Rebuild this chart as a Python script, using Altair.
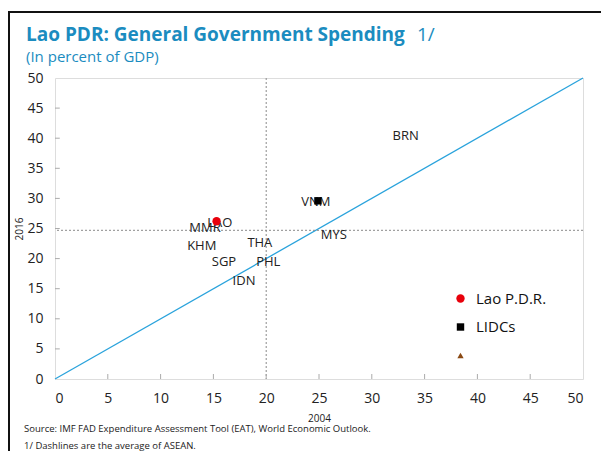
import altair as alt
import pandas as pd

FONT = "Open Sans"

# Country labels: x = 2004 spending, y = 2016 spending (% of GDP)
countries = ["BRN", "VNM", "MYS", "MMR", "LAO", "KHM", "THA", "SGP", "PHL", "IDN"]
x_2004 = [33.2, 24.7, 26.4, 14.2, 15.6, 13.9, 19.4, 16.0, 20.2, 17.9]
y_2016 = [40.4, 29.4, 23.9, 25.1, 25.9, 22.1, 22.6, 19.4, 19.4, 16.3]

# Highlighted series points
series_names = ["Lao P.D.R.", "LIDCs"]
series_x = [15.3, 24.9]
series_y = [26.2, 29.6]

legend_domain = ["Lao P.D.R.", "LIDCs", " "]
legend_colors = ["#e8000b", "#000000", "#8a4a14"]
legend_shapes = ["circle", "square", "triangle-up"]
legend_sizes = [70, 40, 22]

# ASEAN averages (dash lines)
asean_avg_x = [20.0]
asean_avg_y = [24.7]

# 45-degree line
diag_vals = [0, 50]

axis_values = [0, 5, 10, 15, 20, 25, 30, 35, 40, 45, 50]
inner_ticks = [5, 10, 15, 20, 25, 30, 35, 40, 45]

title_text = "Lao PDR: General Government Spending"
title_suffix = "1/"
subtitle_text = "(In percent of GDP)"
source_text = "Source: IMF FAD Expenditure Assessment Tool (EAT), World Economic Outlook."
note_text = "1/ Dashlines are the average of ASEAN."

W, H = 528, 301
BLUE = "#1b8cc0"
TICK_LEN_X = 0.45           # inner y-tick length, in x units (~5px)
FRAME_SPAN = [-4.45, 51.7]  # outer frame top edge extent, in x units

xs = alt.Scale(domain=[0, 50], nice=False, zero=False)
ys = alt.Scale(domain=[0, 50], nice=False, zero=False)
xaxis = alt.Axis(values=axis_values, title="2004", grid=False, domain=False, ticks=False,
                 labelFontSize=14, labelColor="#222", labelPadding=12, labelFont=FONT,
                 titleFontSize=10, titleFontWeight="normal", titleColor="#222",
                 titlePadding=8, titleFont=FONT)
yaxis = alt.Axis(values=axis_values, title="2016", grid=False, domain=False, ticks=False,
                 labelFontSize=14, labelColor="#222", labelPadding=12, labelFont=FONT,
                 titleFontSize=10, titleFontWeight="normal", titleColor="#222",
                 titlePadding=2, titleFont=FONT)


def X(field="x"):
    return alt.X(f"{field}:Q", scale=xs, axis=xaxis)


def Y(field="y"):
    return alt.Y(f"{field}:Q", scale=ys, axis=yaxis)


diag_df = pd.DataFrame({"x": diag_vals, "y": diag_vals})
diag = alt.Chart(diag_df).mark_line(color="#2aa3dc", strokeWidth=1.3).encode(x=X(), y=Y())

vline = alt.Chart(pd.DataFrame({"x": asean_avg_x})).mark_rule(
    color="#8a8a8a", strokeDash=[2, 2], strokeWidth=1).encode(x=X())
hline = alt.Chart(pd.DataFrame({"y": asean_avg_y})).mark_rule(
    color="#8a8a8a", strokeDash=[2, 2], strokeWidth=1).encode(y=Y())

xt = alt.Chart(pd.DataFrame({"x": inner_ticks})).mark_rule(color="#aaaaaa").encode(
    x=X(), y=alt.value(H), y2=alt.value(H - 5))
yt_df = pd.DataFrame({"y": inner_ticks,
                      "tx": [0.0] * len(inner_ticks),
                      "tx2": [TICK_LEN_X] * len(inner_ticks)})
yt = alt.Chart(yt_df).mark_rule(color="#aaaaaa").encode(
    y=Y(), x=X("tx"), x2="tx2:Q")

lab_df = pd.DataFrame({"x": x_2004, "y": y_2016, "c": countries})
labels = alt.Chart(lab_df).mark_text(fontSize=13, color="#222", font=FONT).encode(
    x=X(), y=Y(), text="c:N")

leg = alt.Legend(orient="none", legendX=398, legendY=213, title=None, labelFontSize=15,
                 labelFont=FONT, labelColor="#111", rowPadding=12.5, padding=0,
                 labelOffset=8, symbolStrokeWidth=0.8)
pts_df = pd.DataFrame({"x": series_x, "y": series_y, "s": series_names})
pts = alt.Chart(pts_df).mark_point(filled=True, opacity=1).encode(
    x=X(), y=Y(),
    color=alt.Color("s:N", scale=alt.Scale(domain=legend_domain, range=legend_colors), legend=leg),
    shape=alt.Shape("s:N", scale=alt.Scale(domain=legend_domain, range=legend_shapes), legend=leg),
    size=alt.Size("s:N", scale=alt.Scale(domain=legend_domain, range=legend_sizes), legend=leg),
)


def txt(text, x, y, size, color="#222", weight="normal"):
    return alt.Chart(pd.DataFrame({"t": [text]})).mark_text(
        align="left", baseline="alphabetic", fontSize=size, font=FONT, color=color,
        fontWeight=weight).encode(text="t:N", x=alt.value(x), y=alt.value(y))


title = txt(title_text, -29, -37, 19, BLUE, "bold")
title2 = txt(title_suffix, 362, -37, 19, BLUE)
subtitle = txt(subtitle_text, -29, -16, 15, BLUE)
source = txt(source_text, -31, H + 53, 9.5)
note = txt(note_text, -31, H + 70, 9.5)

frame_left = alt.Chart(pd.DataFrame({"b": [1]})).mark_rule(
    color="#111", strokeWidth=2, orient="vertical").encode(
    x=alt.value(-46), y=alt.value(-67), y2=alt.value(H + 90))

# top edge of the outer frame: drawn as a two-point line
frame_line_df = pd.DataFrame({"fx": FRAME_SPAN})
frame_top_line = alt.Chart(frame_line_df).mark_line(
    color="#111", strokeWidth=2, clip=False).encode(
    x=X("fx"), y=alt.value(-66))
frame_rect_df = pd.DataFrame({"fx": [FRAME_SPAN[0]], "fx2": [FRAME_SPAN[1]]})
frame_top_rect = alt.Chart(frame_rect_df).mark_rect(color="#111", clip=False).encode(
    x=X("fx"), x2="fx2:Q", y=alt.value(-67), y2=alt.value(-65))

chart = alt.layer(
    diag, vline, hline, xt, yt, labels, pts,
    title, title2, subtitle, source, note, frame_left, frame_top_line, frame_top_rect,
).properties(
    width=W, height=H,
    autosize=alt.AutoSizeParams(type="none"),
    padding={"left": 47, "top": 70, "right": 20, "bottom": 72},
).configure_view(
    stroke="#b0b0b0", strokeWidth=1
).configure(background="white")

chart.save("out.html", embed_options={"renderer": "svg", "actions": False})
